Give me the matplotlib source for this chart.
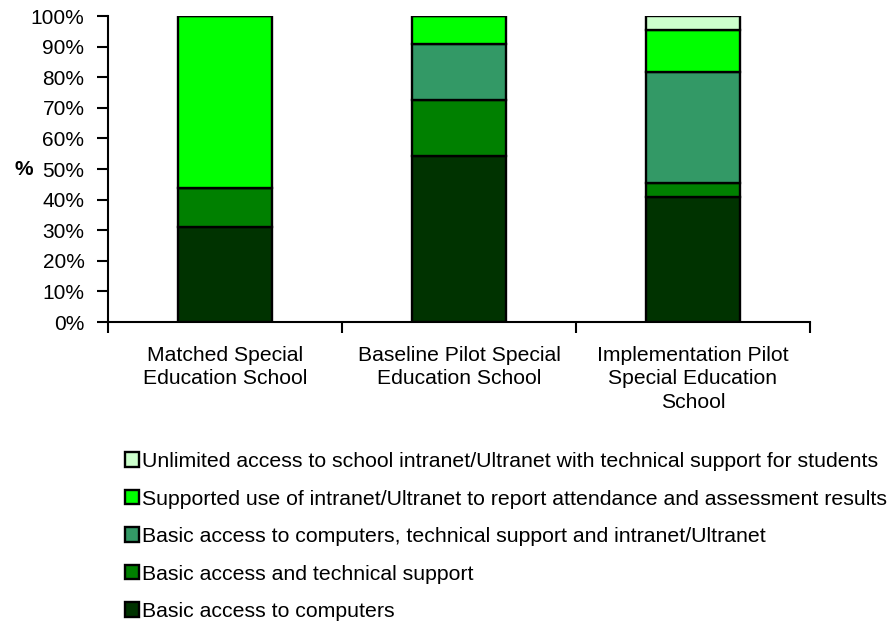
import matplotlib.pyplot as plt
import numpy as np

plt.rcParams['font.family'] = ['Liberation Sans', 'DejaVu Sans']

schools = ['Matched Special\nEducation School',
           'Baseline Pilot Special\nEducation School',
           'Implementation Pilot\nSpecial Education\nSchool']

levels = ['Basic access to computers',
          'Basic access and technical support',
          'Basic access to computers, technical support and intranet/Ultranet',
          'Supported use of intranet/Ultranet to report attendance and assessment results',
          'Unlimited access to school intranet/Ultranet with technical support for students']

basic = [31.0, 54.4, 40.8]
basic_support = [12.8, 18.1, 4.5]
basic_intranet = [0.0, 18.3, 36.5]
supported_use = [56.2, 9.2, 13.6]
unlimited = [0.0, 0.0, 4.6]

colors = ['#003300', '#008000', '#339966', '#00ff00', '#ccffcc']

fig = plt.figure(figsize=(8.9, 6.24), dpi=100)
ax = fig.add_axes([108/890, 1 - 322/624, 702/890, 306/624])

x = np.arange(len(schools))
bottom = np.zeros(len(schools))
handles = []
for vals, lab, col in zip([basic, basic_support, basic_intranet, supported_use, unlimited],
                          levels, colors):
    b = ax.bar(x, vals, 0.4, bottom=bottom, color=col, edgecolor='black',
               linewidth=1.7, label=lab)
    handles.append(b)
    bottom += np.array(vals)

ax.set_xlim(-0.5, 2.5)
ax.set_ylim(0, 100)
ax.set_yticks(np.arange(0, 101, 10))
ax.set_yticklabels(['%d%%' % v for v in range(0, 101, 10)], fontsize=15)
ax.set_xticks(x)
ax.set_xticklabels(schools, fontsize=15.2, linespacing=1.3)
ax.set_xticks([-0.5, 0.5, 1.5, 2.5], minor=True)
ax.tick_params(axis='x', which='major', length=0, pad=17)
ax.tick_params(axis='x', which='minor', length=8, width=1.5, direction='out')
ax.tick_params(axis='y', length=8, width=1.5, pad=9)

for s in ['top', 'right']:
    ax.spines[s].set_visible(False)
for s in ['left', 'bottom']:
    ax.spines[s].set_linewidth(1.5)

ax.set_ylabel('%', rotation=0, fontsize=15, fontweight='bold', ha='center', va='center')
ax.yaxis.set_label_coords(-84/702, 0.5)

fig.legend(handles[::-1], levels[::-1], loc='upper left',
           bbox_to_anchor=(125/890, 1 - 452/624), frameon=False, fontsize=15.35,
           handlelength=0.68, handleheight=0.68, handletextpad=0.12,
           labelspacing=0.87, borderpad=0, borderaxespad=0)

fig.savefig('out.png', dpi=100)
